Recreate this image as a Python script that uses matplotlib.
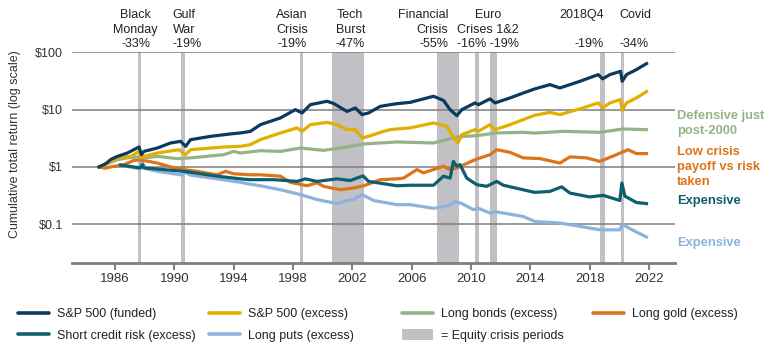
import numpy as np
import matplotlib
matplotlib.use('Agg')
import matplotlib.pyplot as plt
from matplotlib.lines import Line2D
from matplotlib.patches import Patch
from matplotlib.transforms import blended_transform_factory

plt.rcParams['font.family'] = ['Liberation Sans', 'DejaVu Sans']

# ---- data (year, cumulative value) ----
sp_funded_x = [1984.92, 1985.4, 1985.71, 1986.16, 1986.83, 1987.62, 1987.78, 1987.95, 1988.85, 1989.75,
               1990.42, 1990.76, 1991.09, 1992.44, 1993.79, 1994.46, 1995.13, 1995.80, 1997.15, 1998.16,
               1998.61, 1999.17, 2000.29, 2000.74, 2001.64, 2002.20, 2002.65, 2003.09, 2003.88, 2004.55,
               2005.00, 2005.90, 2007.47, 2008.14, 2008.59, 2009.04, 2009.38, 2010.27, 2010.50, 2011.28,
               2011.62, 2012.63, 2013.52, 2014.30, 2015.32, 2015.99, 2017.34, 2018.57, 2018.87, 2019.36,
               2020.08, 2020.19, 2020.48, 2021.15, 2021.83]
sp_funded_y = [1.0, 1.15, 1.35, 1.53, 1.75, 2.23, 1.64, 1.87, 2.14, 2.62,
               2.80, 2.29, 2.99, 3.42, 3.77, 3.92, 4.18, 5.47, 7.16, 10.0,
               8.75, 12.2, 14.0, 12.8, 9.3, 10.7, 8.2, 8.75, 11.4, 12.2,
               12.7, 13.4, 17.1, 14.5, 10.0, 7.85, 10.0, 13.1, 12.2, 15.4,
               13.1, 16.0, 19.5, 23.0, 27.3, 23.9, 31.2, 40.8, 34.4, 40.8,
               46.6, 31.2, 40.8, 49.9, 63.5]

sp_excess_x = [1984.92, 1985.71, 1986.16, 1987.06, 1987.62, 1987.78, 1987.95, 1988.85, 1990.31, 1990.76,
               1991.09, 1993.34, 1994.46, 1995.13, 1995.80, 1997.15, 1998.27, 1998.61, 1999.17, 2000.29,
               2000.97, 2001.64, 2002.20, 2002.65, 2003.09, 2004.10, 2004.55, 2005.00, 2005.90, 2007.47,
               2008.37, 2008.70, 2009.11, 2009.38, 2010.27, 2010.50, 2011.28, 2011.62, 2012.63, 2013.52,
               2014.30, 2015.32, 2015.99, 2017.34, 2018.57, 2018.87, 2019.36, 2020.08, 2020.19, 2020.48,
               2021.15, 2021.83]
sp_excess_y = [1.0, 1.25, 1.44, 1.53, 1.87, 1.44, 1.53, 1.75, 2.0, 1.64,
               2.0, 2.23, 2.29, 2.45, 3.0, 3.92, 4.8, 4.18, 5.47, 6.0,
               5.47, 4.48, 4.48, 3.2, 3.42, 4.18, 4.48, 4.6, 4.8, 5.86,
               5.1, 3.66, 2.62, 3.66, 4.48, 4.2, 5.47, 4.48, 5.47, 6.7,
               8.0, 8.97, 8.2, 10.3, 13.1, 10.7, 13.1, 15.0, 9.7, 13.1,
               16.0, 20.6]

bonds_x = [1984.92, 1985.71, 1986.16, 1986.83, 1987.62, 1987.95, 1988.85, 1990.20, 1991.09, 1993.34,
           1994.01, 1994.46, 1995.80, 1997.15, 1998.50, 2000.06, 2001.19, 2002.76, 2005.00, 2005.90,
           2007.47, 2008.37, 2009.04, 2010.39, 2011.73, 2013.52, 2014.30, 2016.22, 2018.68, 2020.25,
           2021.83]
bonds_y = [1.0, 1.2, 1.34, 1.44, 1.5, 1.44, 1.53, 1.4, 1.44, 1.64,
           1.87, 1.75, 1.92, 1.87, 2.14, 1.95, 2.14, 2.52, 2.73, 2.69,
           2.62, 3.0, 3.34, 3.52, 3.92, 4.02, 3.9, 4.18, 4.02, 4.6,
           4.48]

gold_x = [1984.92, 1985.30, 1985.71, 1986.60, 1987.28, 1987.73, 1988.85, 1989.75, 1990.64, 1991.54,
          1992.89, 1993.45, 1994.01, 1995.13, 1995.80, 1997.15, 1997.82, 1998.95, 1999.62, 2000.06,
          2001.19, 2002.08, 2002.76, 2003.88, 2005.00, 2005.45, 2006.35, 2006.79, 2007.47, 2008.14,
          2008.59, 2009.04, 2010.27, 2011.28, 2011.73, 2012.63, 2013.52, 2014.65, 2015.99, 2016.67,
          2017.79, 2018.68, 2019.81, 2020.59, 2021.15, 2021.83]
gold_y = [1.0, 0.95, 1.0, 1.1, 1.3, 1.33, 1.17, 1.0, 0.9, 0.84,
          0.73, 0.84, 0.76, 0.73, 0.73, 0.69, 0.54, 0.47, 0.53, 0.46,
          0.40, 0.43, 0.47, 0.60, 0.62, 0.64, 0.9, 0.79, 0.9, 1.03,
          0.9, 0.96, 1.34, 1.64, 2.0, 1.8, 1.44, 1.4, 1.17, 1.5,
          1.44, 1.25, 1.64, 2.0, 1.71, 1.71]

credit_x = [1986.38, 1987.73, 1987.84, 1987.95, 1988.85, 1990.64, 1992.89, 1994.46, 1995.13, 1996.70,
            1998.27, 1998.83, 1999.62, 2000.97, 2001.86, 2002.72, 2003.09, 2005.00, 2005.90, 2007.47,
            2008.14, 2008.59, 2008.81, 2009.04, 2009.26, 2009.71, 2010.39, 2011.06, 2011.73, 2012.18,
            2013.52, 2014.30, 2015.32, 2016.11, 2016.67, 2018.01, 2018.91, 2020.03, 2020.17, 2020.37,
            2021.15, 2021.83]
credit_y = [1.08, 0.96, 1.1, 0.96, 0.92, 0.84, 0.69, 0.62, 0.60, 0.60,
            0.56, 0.62, 0.56, 0.62, 0.58, 0.70, 0.56, 0.47, 0.48, 0.48,
            0.69, 0.64, 1.25, 1.03, 1.1, 0.64, 0.49, 0.46, 0.56, 0.48,
            0.40, 0.36, 0.375, 0.45, 0.35, 0.30, 0.32, 0.26, 0.525, 0.31,
            0.24, 0.23]

puts_x = [1986.38, 1987.62, 1987.78, 1988.10, 1988.85, 1990.42, 1990.76, 1991.09, 1992.89, 1994.46,
          1995.13, 1995.80, 1997.15, 1998.50, 1999.62, 2000.97, 2001.64, 2002.08, 2002.65, 2003.43,
          2005.00, 2005.90, 2007.47, 2008.48, 2008.93, 2009.38, 2010.16, 2010.50, 2011.28, 2011.69,
          2013.52, 2014.30, 2015.99, 2017.34, 2018.68, 2020.03, 2020.19, 2020.70, 2021.83]
puts_y = [1.08, 0.93, 1.25, 0.93, 0.84, 0.73, 0.80, 0.72, 0.62, 0.54,
          0.50, 0.47, 0.40, 0.33, 0.27, 0.23, 0.26, 0.27, 0.33, 0.26,
          0.22, 0.22, 0.19, 0.21, 0.25, 0.23, 0.18, 0.19, 0.157, 0.165,
          0.137, 0.112, 0.105, 0.092, 0.08, 0.08, 0.10, 0.084, 0.06]

crisis_start = [1987.57, 1990.47, 1998.47, 2000.65, 2007.71, 2010.27, 2011.28, 2018.69, 2020.11]
crisis_end = [1987.73, 1990.70, 1998.65, 2002.76, 2009.17, 2010.54, 2011.73, 2019.01, 2020.29]

# annotation text above the chart: (line1, line2, line3, x, alignment)
crisis_notes = [
    ('Black', 'Monday', '-33%', 1987.39, 'center'),
    ('Gulf', 'War', '-19%', 1989.88, 'left'),
    ('Asian', 'Crisis', '-19%', 1997.92, 'center'),
    ('Tech', 'Burst', '-47%', 2001.86, 'center'),
    ('Financial', 'Crisis', '-55%', 2008.46, 'right'),
    ('Euro', 'Crises 1&2', '-16% -19%', 2011.15, 'center'),
    ('2018Q4', '', '-19%', 2018.95, 'right'),
    ('Covid', '', '-34%', 2020.0, 'left'),
]

c_navy = '#0c3a5e'
c_gold = '#e2ae00'
c_green = '#96b386'
c_orange = '#dd7418'
c_teal = '#0e5f6e'
c_blue = '#8db2de'
c_band = '#c1c1c5'

W, H = 770, 350
fig = plt.figure(figsize=(W / 100, H / 100), dpi=100)
ax = fig.add_axes([72 / W, 1 - 263 / H, 603 / W, (263 - 52.3) / H])

for s, e in zip(crisis_start, crisis_end):
    ax.axvspan(s, e, color=c_band, lw=0, zorder=1)

lw = 2.3
ax.plot(puts_x, puts_y, color=c_blue, lw=lw, zorder=3)
ax.plot(credit_x, credit_y, color=c_teal, lw=lw, zorder=4)
ax.plot(gold_x, gold_y, color=c_orange, lw=lw, zorder=3)
ax.plot(bonds_x, bonds_y, color=c_green, lw=lw, zorder=3)
ax.plot(sp_excess_x, sp_excess_y, color=c_gold, lw=lw, zorder=5)
ax.plot(sp_funded_x, sp_funded_y, color=c_navy, lw=lw, zorder=6)

ax.set_yscale('log')
ax.set_ylim(0.02113, 100)
ax.set_xlim(1983.1, 2023.75)
ax.set_yticks([0.1, 1, 10, 100])
ax.set_yticklabels(['$0.1', '$1', '$10', '$100'])
ax.yaxis.set_minor_locator(matplotlib.ticker.NullLocator())
ax.set_xticks(np.arange(1986, 2023, 4))
ax.tick_params(axis='y', length=0, pad=6.2, labelsize=9, labelcolor='#333333')
ax.tick_params(axis='x', length=5, width=1.5, color='#7f7f7f', pad=2.5, labelsize=9.5, labelcolor='#333333')
ax.yaxis.grid(True, color='#7f7f7f', lw=1.1, zorder=2)
ax.set_axisbelow(False)
for sp in ['left', 'right', 'top']:
    ax.spines[sp].set_visible(False)
ax.spines['bottom'].set_color('#7f7f7f')
ax.spines['bottom'].set_linewidth(2)

fig.text(15.5 / W, 1 - 144 / H, 'Cumulative total return (log scale)', rotation=90,
         ha='center', va='center', fontsize=9, color='#333333')

# crisis labels on top
tr = blended_transform_factory(ax.transData, fig.transFigure)
for l1, l2, l3, x, al in crisis_notes:
    for txt, yb in zip([l1, l2, l3], [18.3, 33.3, 47.0]):
        if txt:
            ax.text(x, 1 - yb / H, txt, transform=tr, ha=al, va='baseline',
                    fontsize=9, color='#222222', clip_on=False)

# right side labels
right_labels = [
    ('Defensive just', 116, c_green), ('post-2000', 130.7, c_green),
    ('Low crisis', 151.7, c_orange), ('payoff vs risk', 166.7, c_orange), ('taken', 181.7, c_orange),
    ('Expensive', 200.7, c_teal), ('Expensive', 242.7, c_blue),
]
for txt, yc, col in right_labels:
    fig.text(676.7 / W, 1 - yc / H, txt, ha='left', va='center', fontsize=9.3,
             fontweight='bold', color=col)

# legend, laid out as four fixed columns
def lh(c):
    return Line2D([0], [0], color=c, lw=2.6, solid_capstyle='round')

legend_cols = [
    ([lh(c_navy), lh(c_teal)], ['S&P 500 (funded)', 'Short credit risk (excess)'], 18),
    ([lh(c_gold), lh(c_blue)], ['S&P 500 (excess)', 'Long puts (excess)'], 209),
    ([lh(c_green), Patch(color=c_band, lw=0)], ['Long bonds (excess)', '= Equity crisis periods'], 402),
    ([lh(c_orange)], ['Long gold (excess)'], 593),
]
for hs, labs, xpx in legend_cols:
    fig.legend(hs, labs, loc='upper left', bbox_to_anchor=(xpx / W, 1 - 307.8 / H),
               frameon=False, fontsize=9, borderpad=0, borderaxespad=0,
               handlelength=2.5, handleheight=0.9, handletextpad=0.65, labelspacing=0.73,
               labelcolor='#222222')

plt.savefig('out.png', dpi=100)
